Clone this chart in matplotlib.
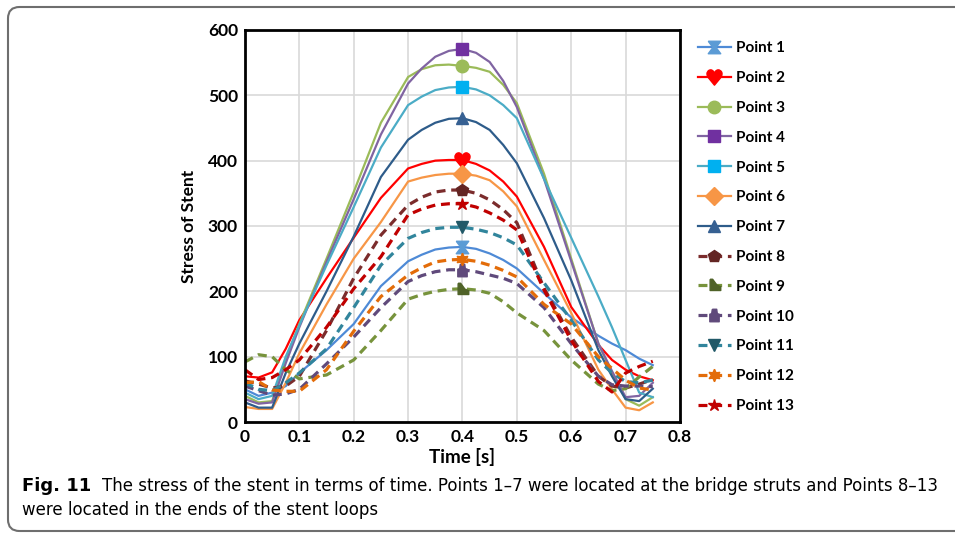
import matplotlib.pyplot as plt
from matplotlib.lines import Line2D
from matplotlib.patches import FancyBboxPatch
from matplotlib.path import Path

plt.rcParams['font.family'] = ['Lato', 'DejaVu Sans']

# sample times [s]
time_s = [0, 0.025, 0.05, 0.075, 0.1, 0.15, 0.2, 0.25, 0.3, 0.325, 0.35, 0.375, 0.4,
          0.425, 0.45, 0.475, 0.5, 0.55, 0.6, 0.65, 0.675, 0.7, 0.725, 0.75]

# stress of stent at each point
point1 = [50, 40, 45, 55, 75, 110, 150, 208, 246, 256, 264, 267, 268, 265, 258, 248, 235, 197, 160, 132, 120, 110, 97, 87]
point2 = [70, 68, 76, 112, 156, 220, 282, 343, 388, 395, 400, 401, 401, 395, 385, 368, 345, 268, 176, 118, 95, 80, 70, 64]
point3 = [40, 30, 32, 95, 150, 250, 352, 458, 528, 540, 546, 547, 545, 542, 536, 516, 488, 380, 250, 120, 75, 35, 25, 38]
point4 = [35, 28, 30, 90, 145, 245, 341, 440, 518, 541, 559, 568, 571, 565, 551, 522, 482, 372, 246, 120, 78, 38, 40, 60]
point5 = [45, 35, 40, 100, 148, 240, 329, 420, 485, 498, 508, 512, 513, 509, 500, 485, 465, 372, 282, 192, 145, 95, 45, 38]
point6 = [23, 20, 20, 60, 105, 180, 250, 306, 368, 374, 378, 380, 380, 377, 370, 353, 330, 248, 167, 80, 50, 22, 18, 30]
point7 = [30, 22, 22, 75, 120, 200, 284, 375, 432, 447, 458, 464, 465, 459, 447, 424, 396, 312, 217, 110, 70, 35, 32, 51]
point8 = [63, 58, 52, 55, 70, 140, 220, 286, 332, 344, 352, 355, 355, 350, 340, 325, 305, 205, 130, 70, 55, 52, 58, 65]
point9 = [92, 103, 100, 80, 66, 72, 95, 140, 188, 195, 200, 203, 204, 202, 197, 184, 167, 140, 95, 58, 48, 51, 69, 85]
point10 = [55, 48, 41, 43, 50, 89, 130, 175, 215, 224, 230, 233, 233, 230, 225, 220, 212, 175, 120, 70, 57, 55, 55, 54]
point11 = [60, 50, 48, 60, 75, 112, 175, 240, 281, 290, 296, 298, 298, 295, 290, 282, 271, 213, 156, 95, 75, 62, 60, 64]
point12 = [60, 62, 49, 47, 47, 80, 139, 192, 225, 236, 245, 248, 249, 246, 240, 232, 222, 180, 150, 100, 82, 64, 52, 49]
point13 = [80, 65, 68, 80, 95, 145, 204, 253, 317, 326, 332, 334, 334, 329, 320, 309, 294, 202, 125, 62, 46, 75, 85, 93]

labels = ['Point %d' % i for i in range(1, 14)]
series = [point1, point2, point3, point4, point5, point6, point7,
          point8, point9, point10, point11, point12, point13]

# custom marker shapes
hourglass = Path([(-1, 1), (1, 1), (0.25, 0), (1, -1), (-1, -1), (-0.25, 0), (-1, 1)])
flag = Path([(-0.7, 1), (-0.3, 1), (0.4, 0.05), (1, -0.2), (1, -0.8), (-0.7, -0.8), (-0.7, 1)])
trapezoid = Path([(-0.35, 1), (0.35, 1), (0.45, 0.3), (0.75, 0.2), (0.75, -1),
                  (-0.75, -1), (-0.75, 0.2), (-0.45, 0.3), (-0.35, 1)])

styles = [
    ('#4E8AD6', '#5B9BD5', hourglass, '-'),
    ('#FF0000', '#FF0000', '$\u2665$', '-'),
    ('#9BBB59', '#9BBB59', 'o', '-'),
    ('#8064A2', '#7030A0', 's', '-'),
    ('#4BACC6', '#00B0F0', 's', '-'),
    ('#F79646', '#F79646', 'D', '-'),
    ('#2E5C8A', '#366092', '^', '-'),
    ('#7B2C2C', '#632523', 'p', '--'),
    ('#77933C', '#4F6228', flag, '--'),
    ('#604A7B', '#604A7B', trapezoid, '--'),
    ('#31859C', '#215968', 'v', '--'),
    ('#E36C09', '#E36C09', (6, 1, 0), '--'),
    ('#C00000', '#C00000', '*', '--'),
]

fig = plt.figure(figsize=(9.55, 5.35), dpi=100)
ax = fig.add_axes([0.2565, 0.2112, 0.4555, 0.7328])

peak = time_s.index(0.4)
handles = []
for vals, lab, (lc, mc, mk, ls) in zip(series, labels, styles):
    lw = 1.6 if ls == '-' else 2.3
    ms = 9 if mk != '$\u2665$' else 11
    kw = dict(color=lc, lw=lw, ls=ls)
    if ls == '--':
        kw['dashes'] = (2.8, 1.8)
    ax.plot(time_s, vals, zorder=2, solid_joinstyle='round', dash_joinstyle='round', **kw)
    ax.plot(time_s[peak], vals[peak], marker=mk, ms=ms, color=mc, mec=mc, ls='none', zorder=3)
    handles.append(Line2D([], [], marker=mk, ms=ms, mfc=mc, mec=mc, **kw))

ax.set_xlim(0, 0.8)
ax.set_ylim(0, 600)
ax.set_xticks([0, 0.1, 0.2, 0.3, 0.4, 0.5, 0.6, 0.7, 0.8])
ax.set_xticklabels(['0', '0.1', '0.2', '0.3', '0.4', '0.5', '0.6', '0.7', '0.8'])
ax.set_yticks(range(0, 700, 100))
ax.grid(color='#D9D9D9', lw=1.2)
ax.set_axisbelow(True)
ax.tick_params(length=0, labelsize=12.5, pad=5)
for t in ax.get_xticklabels() + ax.get_yticklabels():
    t.set_fontweight('bold')
for s in ax.spines.values():
    s.set_linewidth(2)
    s.set_color('black')
ax.set_xlabel('Time [s]', fontsize=13.5, fontweight='bold', labelpad=2)
ax.set_ylabel('Stress of Stent', fontsize=12.5, fontweight='bold', labelpad=8)

fig.legend(handles, labels, loc='upper left', bbox_to_anchor=(0.7225, 0.937),
           frameon=False, borderpad=0, handlelength=2.2, handletextpad=0.3,
           labelspacing=1.035, prop={'weight': 'bold', 'size': 11})

# rounded caption frame
frame = FancyBboxPatch((8 / 955, 4 / 535), 1.2, 524 / 535, boxstyle='round,pad=0,rounding_size=0.012',
                       transform=fig.transFigure, fill=False, ec='#6E6E6E', lw=1.5, clip_on=False,
                       mutation_aspect=955 / 535)
fig.patches.append(frame)

fig.text(22 / 955, 1 - 486 / 535, 'Fig. 11', fontsize=13, fontweight='bold', family='DejaVu Sans', va='center')
fig.text(102 / 955, 1 - 486 / 535,
         'The stress of the stent in terms of time. Points 1\u20137 were located at the bridge struts and Points 8\u201313',
         fontsize=12, family='DejaVu Sans', va='center')
fig.text(22 / 955, 1 - 510 / 535, 'were located in the ends of the stent loops',
         fontsize=12, family='DejaVu Sans', va='center')

fig.savefig('out.png', dpi=100)
